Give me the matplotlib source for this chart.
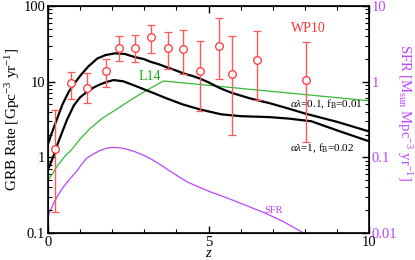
import matplotlib
matplotlib.use("Agg")
import matplotlib.pyplot as plt
from matplotlib.ticker import LogLocator, FuncFormatter, MultipleLocator, NullFormatter

plt.rcParams['font.family'] = ['Liberation Serif', 'DejaVu Serif']
plt.rcParams['mathtext.fontset'] = 'custom'
plt.rcParams['mathtext.rm'] = 'Liberation Serif'
plt.rcParams['mathtext.it'] = 'Liberation Serif:italic'

# WP10 data points
wp_z = [0.22, 0.72, 1.2, 1.8, 2.2, 2.7, 3.2, 3.73, 4.2, 4.73, 5.33, 5.72, 6.52, 8.03]
wp_rate = [1.3, 9.5, 8.3, 14, 28, 28, 38.5, 27.5, 27, 14, 29.5, 12.6, 19.3, 10.5]
wp_hi = [4.2, 13.4, 13, 20, 40, 42, 56, 46, 48, 34, 70, 40, 46.6, 33]
wp_lo = [0.19, 5.9, 5.2, 8.6, 19, 18, 24, 14.7, 12.5, 4.1, 10.7, 2.0, 5.7, 1.58]

# model: alpha lambda = 0.1, fB = 0.01
m1_z = [0, 0.1, 0.29, 0.45, 0.65, 0.85, 1.02, 1.25, 1.54, 1.8, 2.09, 2.4, 2.66, 3.0,
        3.18, 3.45, 3.7, 4.0, 4.21, 4.5, 4.73, 5.0, 5.36, 5.73, 6.3, 6.9, 7.5, 8.0, 9.0, 10]
m1_rate = [1.5, 2.0, 3.3, 5.0, 7.4, 9.8, 12.2, 15.8, 20.3, 22.5, 23.7, 23.2, 21.4, 19.8,
           18.4, 17.0, 15.5, 14.0, 12.9, 11.9, 11.0, 9.8, 8.2, 7.1, 6.0, 5.2, 4.4, 3.8, 2.95, 2.2]

# model: alpha lambda = 1, fB = 0.02
m2_z = [0, 0.06, 0.19, 0.3, 0.45, 0.6, 0.81, 1.0, 1.22, 1.45, 1.65, 1.85, 2.05, 2.35,
        2.66, 3.0, 3.35, 3.7, 4.2, 4.73, 5.05, 5.4, 6.0, 6.9, 7.5, 8.2, 9.1, 10]
m2_rate = [0.7, 0.79, 1.1, 1.5, 2.2, 3.2, 4.9, 6.2, 7.4, 8.5, 9.3, 10.0, 10.5, 10.1,
           9.0, 7.9, 6.9, 6.0, 5.0, 4.3, 4.0, 3.7, 3.5, 3.4, 3.25, 3.0, 2.2, 1.63]

# L14
l14_z = [0, 0.15, 0.3, 0.5, 0.76, 1.0, 1.31, 1.7, 2.2, 2.65, 3.1, 3.6, 10]
l14_rate = [0.5, 0.62, 0.78, 1.0, 1.3, 1.75, 2.4, 3.3, 4.5, 6.0, 7.8, 10.2, 5.6]

# SFR (right axis)
sfr_z = [0, 0.1, 0.2, 0.3, 0.45, 0.58, 0.75, 0.9, 1.05, 1.2, 1.4, 1.6, 1.8, 1.98, 2.2,
         2.4, 2.7, 2.97, 3.25, 3.5, 3.75, 4.0, 4.35, 4.73, 5.05, 5.4, 5.77, 6.3, 6.81, 7.35, 8.0]
sfr = [0.0165, 0.021, 0.026, 0.031, 0.039, 0.046, 0.056, 0.066, 0.081, 0.097, 0.110, 0.122,
       0.131, 0.135, 0.134, 0.130, 0.119, 0.107, 0.093, 0.080, 0.068, 0.058, 0.047, 0.040,
       0.035, 0.031, 0.027, 0.022, 0.018, 0.014, 0.0098]

W, H = 415, 260
fig = plt.figure(figsize=(W / 100, H / 100), dpi=100)
ax = fig.add_axes([48 / W, (H - 233) / H, (369 - 48) / W, (233 - 6) / H])

purple = '#bb44ff'
green = '#33bb33'
red = '#ff3333'

ax.plot(m1_z, m1_rate, color='black', lw=1.6, zorder=3)
ax.plot(m2_z, m2_rate, color='black', lw=1.6, zorder=3)
ax.plot(l14_z, l14_rate, color=green, lw=0.9, zorder=2)

yerr = [[r - l for r, l in zip(wp_rate, wp_lo)], [h - r for r, h in zip(wp_rate, wp_hi)]]
ax.errorbar(wp_z, wp_rate, yerr=yerr, fmt='o', ms=5.5, mfc='white', mec=red, mew=0.9,
            ecolor='#ff5a5a', elinewidth=1.0, capsize=3, capthick=1.0, zorder=4)

ax.set_yscale('log')
ax.set_xlim(0, 10)
ax.set_ylim(0.1, 100)
ax.xaxis.set_major_locator(MultipleLocator(5))
ax.xaxis.set_minor_locator(MultipleLocator(1))
ax.yaxis.set_major_locator(LogLocator(base=10, numticks=10))
ax.yaxis.set_minor_locator(LogLocator(base=10, subs=range(2, 10), numticks=10))
ax.yaxis.set_minor_formatter(NullFormatter())
ax.yaxis.set_major_formatter(FuncFormatter(lambda v, p: '%g' % v))
ax.tick_params(which='both', direction='in', top=True, right=False, labelsize=10.5, pad=2)
ax.tick_params(which='major', length=5, width=1)
ax.tick_params(which='minor', length=3, width=0.8)
for s in ax.spines.values():
    s.set_linewidth(1.2)

ax.set_ylabel('GRB Rate [Gpc$^{-3}$ yr$^{-1}$]', fontsize=11, labelpad=1)
ax.set_xlabel('$z$', fontsize=10.5)
ax.xaxis.set_label_coords(0.5, -0.06)

ax2 = ax.twinx()
ax2.plot(sfr_z, sfr, color=purple, lw=0.9, zorder=1)
ax2.set_yscale('log')
ax2.set_ylim(0.01, 10)
ax2.yaxis.set_major_locator(LogLocator(base=10, numticks=10))
ax2.yaxis.set_minor_locator(LogLocator(base=10, subs=range(2, 10), numticks=10))
ax2.yaxis.set_minor_formatter(NullFormatter())
ax2.yaxis.set_major_formatter(FuncFormatter(lambda v, p: '%g' % v))
ax2.tick_params(which='both', direction='in', labelsize=10.5, labelcolor=purple, pad=2)
ax2.tick_params(which='major', length=5, width=1)
ax2.tick_params(which='minor', length=3, width=0.8)
ax2.set_ylabel('SFR [M$_{\\rm sun}$ Mpc$^{-3}$ yr$^{-1}$]', color=purple, fontsize=10.5,
               rotation=270, va='center')
ax2.yaxis.set_label_coords(1.11, 0.53)

ax.set_zorder(ax2.get_zorder() + 1)
ax.patch.set_visible(False)

ax.text(8.1, 50, 'WP10', color=red, fontsize=10, ha='center', va='center')
ax.text(3.18, 11.6, 'L14', color='#22aa22', fontsize=10, ha='center', va='center')
ax.text(7.04, 0.2, 'SFR', color=purple, fontsize=7.5, ha='center', va='center')
ax.text(8.66, 5.0, '$\\alpha\\lambda$=0.1, f$_{\\rm B}$=0.01', color='black', fontsize=8,
        ha='center', va='center')
ax.text(8.54, 1.31, '$\\alpha\\lambda$=1, f$_{\\rm B}$=0.02', color='black', fontsize=8,
        ha='center', va='center')

fig.savefig('out.png', dpi=100)
